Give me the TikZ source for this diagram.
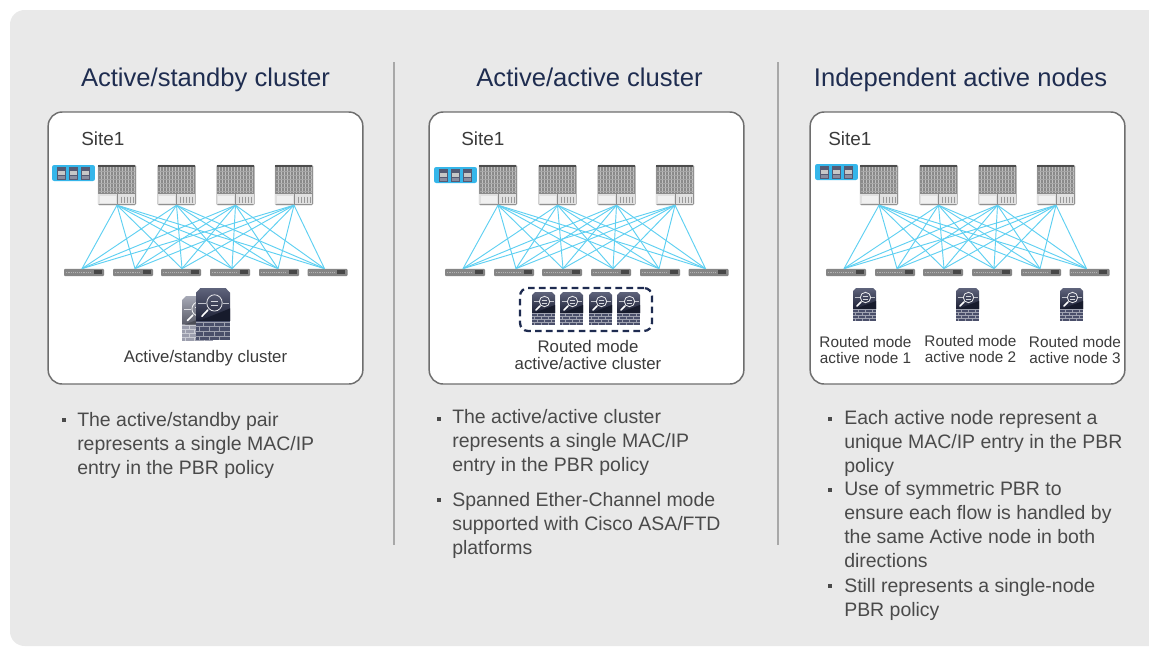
\documentclass[tikz,border=0pt]{standalone}
\usepackage{fontspec}
\usetikzlibrary{calc}
\setmainfont{Liberation Sans}
\definecolor{pagebg}{HTML}{E9E9E9}
\definecolor{boxline}{HTML}{6E6E6E}
\definecolor{titlec}{HTML}{1F2D50}
\definecolor{bodyc}{HTML}{4A4A4A}
\definecolor{linkc}{HTML}{5FD0F2}
\definecolor{tagc}{HTML}{35B6EA}
\definecolor{navy}{HTML}{1E2B50}
\definecolor{fwc}{HTML}{2A3050}
\definecolor{divc}{HTML}{A8A8A8}
\newcommand{\pxfont}[2]{\fontsize{#1}{#2}\selectfont}
\tikzset{
  x=0.75pt,y=-0.75pt,
  paneltitle/.style={text=titlec,font=\pxfont{19.2}{23},anchor=base,inner sep=0},
  sitebox/.style={draw=boxline,line width=1.1pt,fill=white,rounded corners=10.5pt,minimum width=236pt,minimum height=204pt,inner sep=0},
  sitelabel/.style={text=bodyc!80!black,font=\pxfont{14.2}{17},anchor=west,inner sep=0},
  smalllabel/.style={text=bodyc!80!black,font=\pxfont{12.6}{12.4},align=center,anchor=center,inner sep=0},
  nodelabel/.style={smalllabel,font=\pxfont{11.5}{12.2}},
  bodytext/.style={text=bodyc,font=\pxfont{14.6}{17.85},align=left,anchor=north west,inner sep=0},
  bulletmark/.style={fill=bodyc,minimum size=3.2pt,inner sep=0,outer sep=0},
  spinebox/.style={draw=black!22,line width=.3pt,fill=black!46,rounded corners=.8pt,minimum width=28.5pt,minimum height=30pt,inner sep=0},
  leafbox/.style={fill=black!48,rounded corners=.8pt,minimum width=30pt,minimum height=5.4pt,inner sep=0},
  fabriclink/.style={draw=linkc,line width=.7pt},
  tagbox/.style={fill=tagc,rounded corners=1.6pt,minimum width=32.2pt,minimum height=12pt,inner sep=0},
  divider/.style={draw=divc,line width=.8pt},
  clusterbox/.style={draw=navy,line width=1.7pt,dash pattern=on 5pt off 3.2pt,rounded corners=6pt,minimum width=99pt,minimum height=32.2pt,inner sep=0},
  pics/firewall/.style={code={
    \path[top color=#1!75!white,bottom color=#1!65!black,shading angle=0]
      (0,3)--(3,0)--(20,0)--(23,3)--(23,21)--(0,21)--cycle;
    \fill[#1!55!black] (2,21)--(23,13)--(23,21)--cycle;
    \fill[#1!85!white] (0,21) rectangle (23,33);
    \foreach \yy in {21.6,24.6,27.6,30.6} \draw[white!55!#1,line width=.3pt] (0,\yy)--(23,\yy);
    \foreach \xx in {5,12,19} \draw[white!55!#1,line width=.3pt] (\xx,21.6)--(\xx,24.6) (\xx,27.6)--(\xx,30.6);
    \foreach \xx in {2,9,16} \draw[white!55!#1,line width=.3pt] (\xx,24.6)--(\xx,27.6) (\xx,30.6)--(\xx,33);
    \draw[white!70!#1,line width=.3pt] (1.5,9.5)--(6.5,9.5) (18,9.5)--(22,9.5);
    \draw[white!90!#1,line width=.6pt] (12.5,9.5) circle[radius=5.2];
    \draw[white!80!#1,line width=.3pt] (9.8,8.2)--(15,8.2) (10,10.8)--(15.2,10.8);
    \draw[white,line width=1.2pt,line cap=round] (8,14)--(4,18);
  }},
  pics/tagfw/.style={code={
    \fill[fwc!80!white] (0,0) rectangle (9,13);
    \fill[black!22] (1,4.5) rectangle (8,8.5);
    \fill[fwc!55!white] (1,9.5) rectangle (8,12);
  }}
}
% one fabric: #1 = name prefix, #2 = horizontal shift
\newcommand{\fabric}[2]{%
  \begin{scope}[shift={(#2,0)}]
    \foreach \i/\sx in {1/117,2/176.5,3/235.5,4/294}{
      \node[spinebox] (#1s\i) at (\sx,185) {};
      \begin{scope}[shift={(#1s\i.north west)}]
        \fill[black!70] (0.5,0) rectangle (37.5,2);
        \foreach \xx in {3,6,...,36} \draw[black!25,line width=.3pt] (\xx,2)--(\xx,28);
        \foreach \yy in {6,10,...,26} \draw[black!35,line width=.25pt] (1,\yy)--(37,\yy);
        \fill[black!12] (0.5,29) rectangle (37.5,39.5);
        \fill[black!6] (2,31) rectangle (18,38);
        \draw[black!45,line width=.3pt] (19,29)--(19,39.5);
        \foreach \xx in {23,26,29,32,35} \draw[black!40,line width=.4pt] (\xx,32)--(\xx,38);
      \end{scope}
    }
    \foreach \j/\lx/\off in {1/84/-2,2/133/2,3/181/1,4/230/2,5/279/-1,6/327.5/-3}{
      \node[leafbox] (#1l\j) at (\lx,272.5) {};
      \coordinate (#1t\j) at ([xshift=\off*0.75pt]#1l\j.north);
      \begin{scope}[shift={(#1l\j.north west)}]
        \draw[black!30,line width=.3pt,dash pattern=on .6pt off .8pt] (2,3.5)--(28,3.5);
        \fill[black!72] (30,1.5) rectangle (38,5);
      \end{scope}
    }
    \foreach \i in {1,2,3,4}\foreach \j in {1,...,6}
      \draw[fabriclink] (#1s\i.south) -- (#1t\j);
  \end{scope}
}
\newcommand{\tagicons}[3]{%
  \node[tagbox] (#1) at (#2,#3) {};
  \foreach \k/\d in {1/-16.5,2/-4.5,3/7.5}
    \pic (#1f\k) at ($(#1.center)+(\d,-6.3)$) {tagfw};
}
\begin{document}
\begin{tikzpicture}
\useasboundingbox (0,0) rectangle (1149,647);
\fill[white] (0,0) rectangle (1149,647);
\fill[pagebg,rounded corners=11pt] (10,10) rectangle (1175,646);
\fill[white] (1149,0) rectangle (1175,647);

\node[paneltitle] (t1) at (205.5,86) {Active/standby cluster};
\node[paneltitle] (t2) at (589.5,86) {Active/active cluster};
\node[paneltitle] (t3) at (960.5,86) {Independent active nodes};

\coordinate (d1a) at (394,62); \coordinate (d1b) at (394,545);
\coordinate (d2a) at (778,62); \coordinate (d2b) at (778,545);
\draw[divider] (d1a)--(d1b);
\draw[divider] (d2a)--(d2b);

\node[sitebox] (b1) at (205.5,248) {};
\node[sitebox] (b2) at (586.5,248) {};
\node[sitebox] (b3) at (967.5,248) {};

\node[sitelabel] (s1) at (81,139) {Site1};
\node[sitelabel] (s2) at (461,139) {Site1};
\node[sitelabel] (s3) at (828,139) {Site1};

\fabric{a}{0}
\fabric{b}{381}
\fabric{c}{762}

\tagicons{g1}{73.5}{173}
\tagicons{g2}{455.5}{175}
\tagicons{g3}{836.5}{172}

% panel 1 firewalls
\pic[xscale=1.36,yscale=1.36] (fwb) at (182,296) {firewall=fwc!55!white};
\pic[xscale=1.48,yscale=1.57] (fwa) at (196,288) {firewall=fwc};
\node[smalllabel] (l1) at (205.5,358) {Active/standby cluster};

% panel 2 firewalls
\node[clusterbox] (cl) at (586,309.5) {};
\foreach \k/\fx in {1/532,2/560,3/589,4/617}
  \pic (fc\k) at (\fx,292) {firewall=fwc};
\node[smalllabel] (l2) at (588,355) {Routed mode\\active/active cluster};

% panel 3 firewalls
\foreach \k/\fx in {1/853,2/956,3/1060}
  \pic (fd\k) at (\fx,288) {firewall=fwc};
\node[nodelabel] (l3) at (865.5,350) {Routed mode\\active node 1};
\node[nodelabel] (l4) at (970.5,349) {Routed mode\\active node 2};
\node[nodelabel] (l5) at (1075,350) {Routed mode\\active node 3};

% text
\node[bulletmark] (m1) at (64,420) {};
\node[bodytext] (x1) at (77,412.5) {The active/standby pair\\represents a single MAC/IP\\entry in the PBR policy};
\node[bulletmark] (m2) at (439,419) {};
\node[bodytext] (x2) at (452,409.5) {The active/active cluster\\represents a single MAC/IP\\entry in the PBR policy};
\node[bulletmark] (m3) at (439,500) {};
\node[bodytext] (x3) at (452,492.5) {Spanned Ether-Channel mode\\supported with Cisco ASA/FTD\\platforms};
\node[bulletmark] (m4) at (830,419) {};
\node[bodytext] (x4) at (844,410.5) {Each active node represent a\\unique MAC/IP entry in the PBR\\policy};
\node[bulletmark] (m5) at (830,490) {};
\node[bodytext] (x5) at (844,481.5) {Use of symmetric PBR to\\ensure each flow is handled by\\the same Active node in both\\directions};
\node[bulletmark] (m6) at (830,586) {};
\node[bodytext] (x6) at (844,578.5) {Still represents a single-node\\PBR policy};
\end{tikzpicture}
\end{document}
